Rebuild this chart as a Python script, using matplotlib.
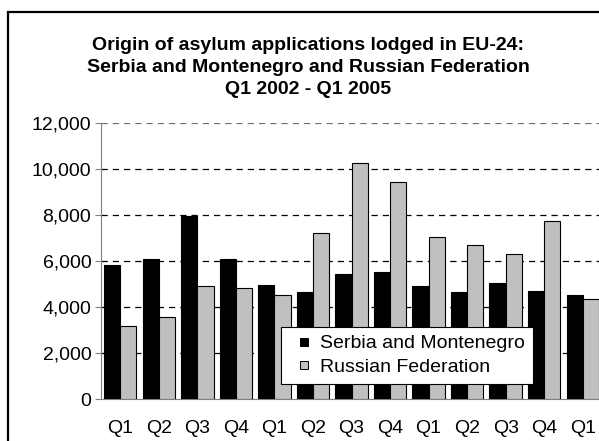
import numpy as np
import matplotlib.pyplot as plt
from matplotlib.patches import Rectangle
from matplotlib.lines import Line2D
from matplotlib.ticker import FuncFormatter

plt.rcParams['font.family'] = ['Liberation Sans', 'DejaVu Sans']

# Quarterly asylum applications, Q1 2002 - Q1 2005
quarters = ['Q1', 'Q2', 'Q3', 'Q4', 'Q1', 'Q2', 'Q3', 'Q4',
            'Q1', 'Q2', 'Q3', 'Q4', 'Q1']
serbia = [5840, 6090, 7970, 6090, 4970, 4640, 5430, 5510,
          4910, 4640, 5040, 4710, 4510]
russia = [3160, 3570, 4900, 4830, 4510, 7200, 10260, 9420,
          7030, 6680, 6290, 7740, 4360]
series_names = ['Serbia and Montenegro', 'Russian Federation']
series_colors = ['black', '#c0c0c0']

W, H = 599, 441
FS = 14
fig = plt.figure(figsize=(W / 100, H / 100), dpi=100)

# outer chart frame (clipped on the right and bottom like the original)
fig.patches.append(Rectangle((8 / W, -0.2), 1.2, 1.2 - 12 / H,
                             transform=fig.transFigure, fill=False,
                             edgecolor='black', linewidth=1.6))

ax = fig.add_axes([101 / W, 42 / H, 501 / W, 276 / H])

x = np.arange(len(quarters))
w = 0.42
ax.bar(x - w / 2, serbia, w, color=series_colors[0], edgecolor='black',
       linewidth=0.8, zorder=3)
ax.bar(x + w / 2, russia, w, color=series_colors[1], edgecolor='black',
       linewidth=0.8, zorder=3)

ax.set_xlim(-0.5, len(quarters) - 0.5)
ax.set_ylim(0, 12000)
ax.set_yticks(np.arange(0, 12001, 2000))
ax.yaxis.set_major_formatter(FuncFormatter(lambda v, p: f'{int(v):,}'))
ax.set_xticks(x)
ax.set_xticklabels(quarters)

for v in range(2000, 12001, 2000):
    ax.axhline(v, color='black' if v < 12000 else '#707070',
               linestyle=(0, (5, 4)), linewidth=0.9, zorder=1)

for s in ['top', 'right']:
    ax.spines[s].set_visible(False)
ax.spines['left'].set_color('#808080')
ax.spines['bottom'].set_color('#808080')
ax.tick_params(axis='y', length=4, color='#808080', labelsize=FS, pad=3)
ax.tick_params(axis='x', length=0, labelsize=FS, pad=15)

handles = [Line2D([], [], linestyle='none', marker='s', markersize=6,
                  markerfacecolor=c, markeredgecolor='black',
                  markeredgewidth=0.7) for c in series_colors]
leg = ax.legend(handles, series_names, loc='upper left',
                bbox_to_anchor=(281 / W, 1 - 327 / H),
                bbox_transform=fig.transFigure, borderaxespad=0,
                fontsize=FS, frameon=True, fancybox=False,
                handlelength=1.6, handletextpad=0.0,
                borderpad=0.4, labelspacing=0.3)
leg.get_frame().set_edgecolor('black')
leg.get_frame().set_linewidth(0.8)
leg.get_frame().set_alpha(1)
leg.set_zorder(5)

title_lines = ['Origin of asylum applications lodged in EU-24:',
               'Serbia and Montenegro and Russian Federation',
               'Q1 2002 - Q1 2005']
for i, line in enumerate(title_lines):
    fig.text(308 / W, 1 - (45 + 22 * i) / H, line, ha='center', va='center',
             fontsize=FS, fontweight='bold')

fig.savefig('out.png', dpi=100)
